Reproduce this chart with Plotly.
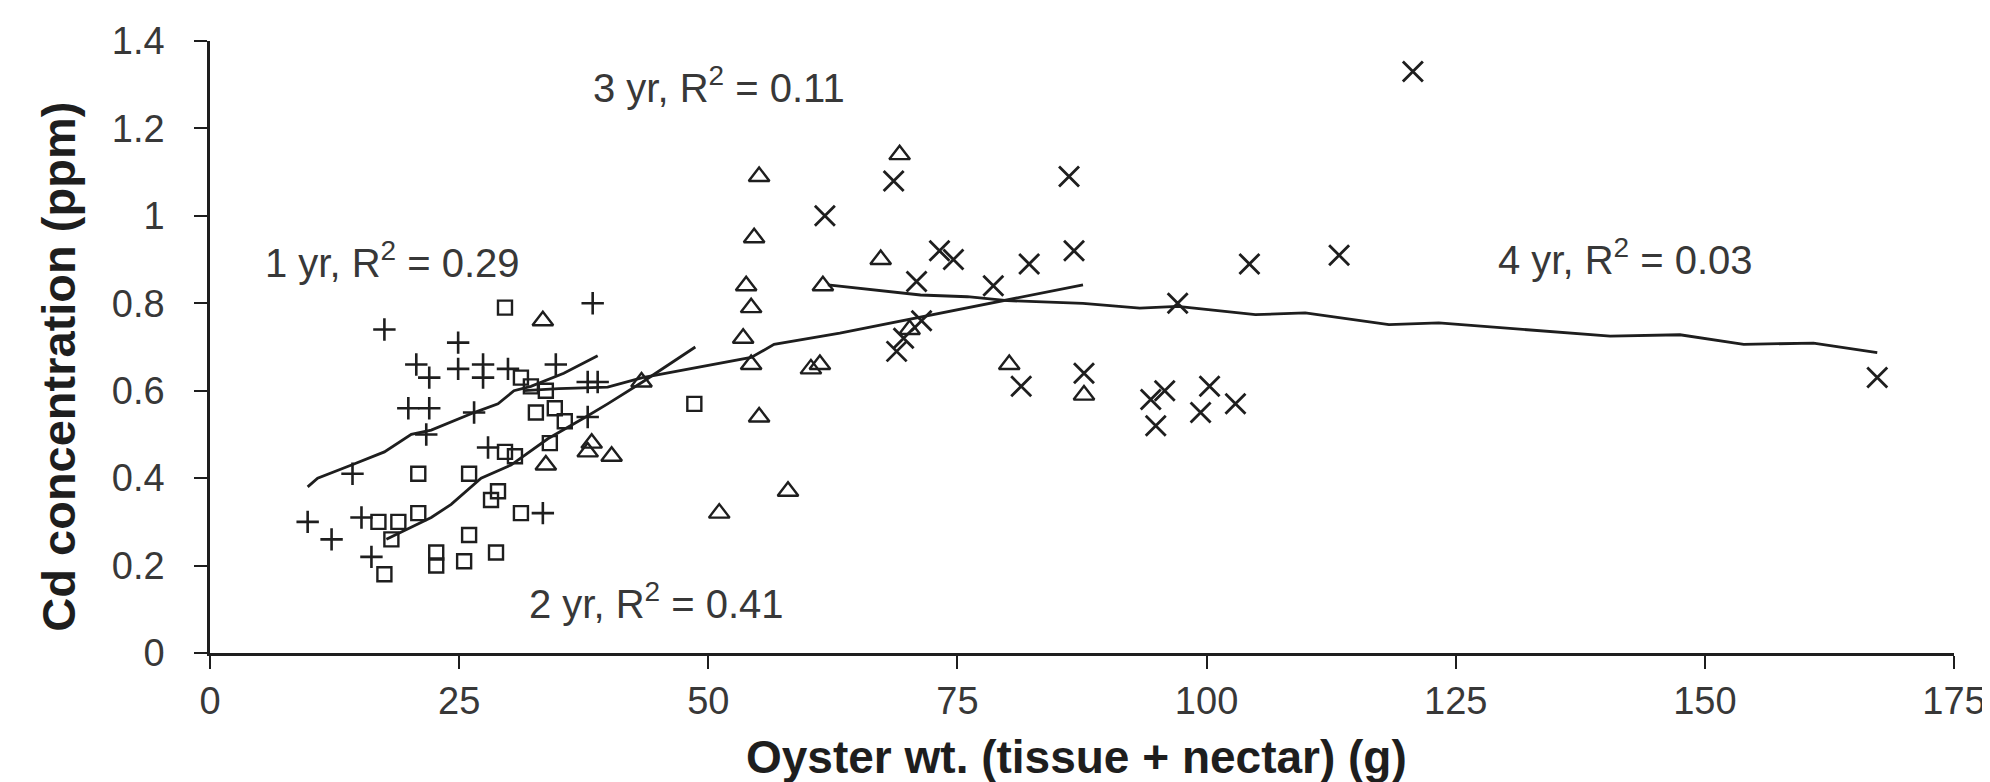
import plotly.graph_objects as go

# ---- data ----
# 1 yr oysters (plus markers)
x_1yr = [17.5, 38.4, 24.9, 20.7, 22.0, 24.9, 27.4, 27.4, 29.9, 34.7, 37.9, 38.9,
         19.9, 22.0, 26.5, 21.7, 37.9, 27.9, 14.3, 9.8, 12.2, 15.2, 16.2, 33.4]
y_1yr = [0.74, 0.80, 0.71, 0.66, 0.63, 0.65, 0.66, 0.63, 0.65, 0.66, 0.62, 0.62,
         0.56, 0.56, 0.55, 0.50, 0.54, 0.47, 0.41, 0.30, 0.26, 0.31, 0.22, 0.32]

# 2 yr oysters (open squares)
x_2yr = [29.6, 31.2, 33.7, 32.7, 34.6, 35.6, 34.1, 29.6, 30.6, 20.9, 26.0, 28.2,
         28.9, 31.2, 16.9, 18.9, 20.9, 18.2, 17.5, 22.7, 22.7, 26.0, 25.5, 28.7,
         48.6, 32.2]
y_2yr = [0.79, 0.63, 0.60, 0.55, 0.56, 0.53, 0.48, 0.46, 0.45, 0.41, 0.41, 0.35,
         0.37, 0.32, 0.30, 0.30, 0.32, 0.26, 0.18, 0.23, 0.20, 0.27, 0.21, 0.23,
         0.57, 0.61]

# 3 yr oysters (open triangles)
x_3yr = [33.4, 43.3, 37.9, 38.3, 40.3, 33.7, 55.1, 69.2, 54.6, 67.3, 53.8, 54.3,
         61.5, 53.5, 54.3, 60.3, 61.2, 55.1, 58.0, 51.1, 80.2, 87.7, 70.2]
y_3yr = [0.76, 0.62, 0.46, 0.48, 0.45, 0.43, 1.09, 1.14, 0.95, 0.90, 0.84, 0.79,
         0.84, 0.72, 0.66, 0.65, 0.66, 0.54, 0.37, 0.32, 0.66, 0.59, 0.74]

# 4 yr oysters (x markers)
x_4yr = [61.7, 68.6, 86.2, 73.2, 74.6, 70.9, 78.6, 82.2, 86.7, 68.9, 69.6, 71.4,
         81.4, 87.7, 97.1, 104.3, 113.3, 120.7, 95.8, 94.4, 94.9, 100.3, 99.4,
         102.9, 167.3]
y_4yr = [1.00, 1.08, 1.09, 0.92, 0.90, 0.85, 0.84, 0.89, 0.92, 0.69, 0.72, 0.76,
         0.61, 0.64, 0.80, 0.89, 0.91, 1.33, 0.60, 0.58, 0.52, 0.61, 0.55,
         0.57, 0.63]

# trend lines
trend1_x = [9.8, 10.8, 14.2, 17.5, 20.2, 22.2, 26.5, 28.9, 30.5, 32.2, 35.5, 38.9]
trend1_y = [0.38, 0.40, 0.43, 0.46, 0.50, 0.51, 0.55, 0.57, 0.60, 0.61, 0.64, 0.68]

trend2_x = [17.7, 22.2, 24.2, 27.2, 30.2, 33.9, 37.7, 39.9, 43.4, 48.7]
trend2_y = [0.26, 0.31, 0.34, 0.40, 0.43, 0.49, 0.54, 0.57, 0.62, 0.70]

trend3_x = [31.5, 35.0, 39.9, 43.4, 54.3, 56.6, 63.2, 70.0, 80.0, 87.6]
trend3_y = [0.60, 0.605, 0.608, 0.63, 0.676, 0.706, 0.732, 0.763, 0.808, 0.842]

trend4_x = [62.0, 66.0, 71.3, 76.0, 80.0, 87.6, 93.3, 97.1, 104.9, 109.9, 118.3,
            123.3, 130.0, 140.5, 147.5, 153.9, 160.9, 167.3]
trend4_y = [0.842, 0.832, 0.819, 0.815, 0.806, 0.800, 0.789, 0.793, 0.774, 0.778,
            0.751, 0.755, 0.743, 0.725, 0.728, 0.706, 0.709, 0.687]

# labels (left edge position in data units)
label_text = ["1 yr, R<sup>2</sup> = 0.29", "2 yr, R<sup>2</sup> = 0.41",
              "3 yr, R<sup>2</sup> = 0.11", "4 yr, R<sup>2</sup> = 0.03"]
label_x = [5.3, 31.8, 38.2, 129.0]
label_y = [0.90, 0.12, 1.30, 0.906]

x_ticks = [0, 25, 50, 75, 100, 125, 150, 175]
y_ticks = [0, 0.2, 0.4, 0.6, 0.8, 1, 1.2, 1.4]
y_ticklabels = ["0", "0.2", "0.4", "0.6", "0.8", "1", "1.2", "1.4"]

x_title = "Oyster wt. (tissue + nectar) (g)"
y_title = "Cd concentration (ppm)"

INK = "#1e1e1e"
TXT = "#383838"
FONT = "Liberation Sans, Arial, sans-serif"

fig = go.Figure()

def add_pts(xs, ys, symbol, size, lw):
    fig.add_trace(go.Scatter(
        x=xs, y=ys, mode="markers", showlegend=False, cliponaxis=False,
        marker=dict(symbol=symbol, size=size, color=INK,
                    line=dict(color=INK, width=lw))))

add_pts(x_1yr, y_1yr, "cross-thin-open", 16, 2.6)
add_pts(x_2yr, y_2yr, "square-open", 14, 2.4)
add_pts(x_3yr, y_3yr, "triangle-up-open", 18, 2.4)
add_pts(x_4yr, y_4yr, "x-thin-open", 20, 2.8)

for tx, ty in [(trend1_x, trend1_y), (trend2_x, trend2_y),
               (trend3_x, trend3_y), (trend4_x, trend4_y)]:
    fig.add_trace(go.Scatter(x=tx, y=ty, mode="lines", showlegend=False,
                             line=dict(color=INK, width=2.8)))

for t, lx, ly in zip(label_text, label_x, label_y):
    fig.add_annotation(x=lx, y=ly, xref="x", yref="y", text=t, showarrow=False,
                       xanchor="left", yanchor="middle",
                       font=dict(family=FONT, size=40, color=TXT))

# axis titles
fig.add_annotation(x=-0.0871, y=0.468, xref="paper", yref="paper",
                   text="<b>" + y_title + "</b>", textangle=-90, showarrow=False,
                   xanchor="center", yanchor="middle",
                   font=dict(family=FONT, size=47, color=INK))
fig.add_annotation(x=0.497, y=-0.1707, xref="paper", yref="paper",
                   text="<b>" + x_title + "</b>", showarrow=False,
                   xanchor="center", yanchor="middle",
                   font=dict(family=FONT, size=46, color=INK))

fig.update_layout(
    width=1990, height=782,
    margin=dict(l=202, r=43, t=30, b=137),
    plot_bgcolor="white", paper_bgcolor="white",
    font=dict(family=FONT, size=38, color=TXT),
    xaxis=dict(range=[0, 175], tickmode="array", tickvals=x_ticks,
               showgrid=False, zeroline=False, showline=True, linecolor=INK,
               linewidth=2.5, ticks="outside", ticklen=13, tickwidth=2.2,
               tickcolor=INK, tickfont=dict(size=38, color=TXT)),
    yaxis=dict(range=[0, 1.4], tickmode="array", tickvals=y_ticks,
               ticktext=y_ticklabels,
               showgrid=False, zeroline=False, showline=True, linecolor=INK,
               linewidth=2.5, ticks="outside", ticklen=13, tickwidth=2.2,
               tickcolor=INK, tickfont=dict(size=38, color=TXT),
               ticklabelstandoff=22),
)

fig.write_html("out.html")
